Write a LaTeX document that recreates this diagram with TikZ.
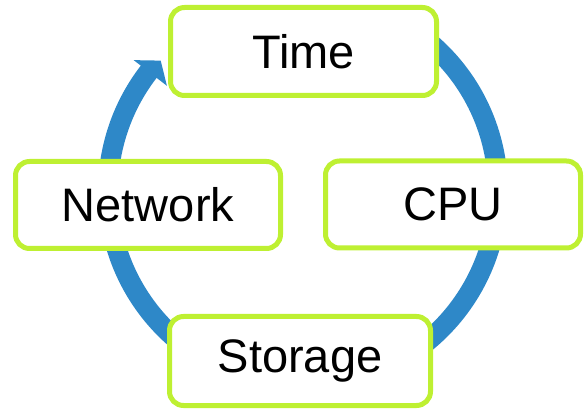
\documentclass[tikz,border=0pt]{standalone}
\usepackage{fontspec}
\setmainfont{Liberation Sans}
\usetikzlibrary{calc}
\definecolor{cycleblue}{HTML}{2E88C8}
\definecolor{limeedge}{HTML}{BEF032}
\begin{document}
\begin{tikzpicture}[x=1pt,y=1pt,
  stagebox/.style={draw=limeedge, line width=5pt, fill=white, rounded corners=14pt,
    font=\fontsize{47}{52}\selectfont, inner sep=0pt},
  cycleband/.style={draw=cycleblue, line width=20pt}]
  \useasboundingbox (0,0) rectangle (584,410);
  % centre of the cycle arrow
  \coordinate (c) at (303,219);
  % circular band, running clockwise from behind "Time"
  \draw[cycleband] ($(c)+(55:195pt)$) arc[start angle=55, end angle=-218.5, radius=195pt];
  % arrow head
  \fill[cycleblue] ($(c)+(142.3:172pt)$) -- ($(c)+(137.5:193pt)$) -- ($(c)+(142.3:214pt)$) -- cycle;
  % stages
  \node[stagebox, minimum width=266pt, minimum height=88pt] (time) at (303.5,358.5) {Time};
  \node[stagebox, minimum width=265pt, minimum height=87pt] (net) at (148,205) {Network};
  \node[stagebox, minimum width=255pt, minimum height=87pt] (cpu) at (453,205.5) {CPU};
  \node[stagebox, minimum width=261pt, minimum height=89pt] (sto) at (300,49) {Storage};
\end{tikzpicture}
\end{document}
